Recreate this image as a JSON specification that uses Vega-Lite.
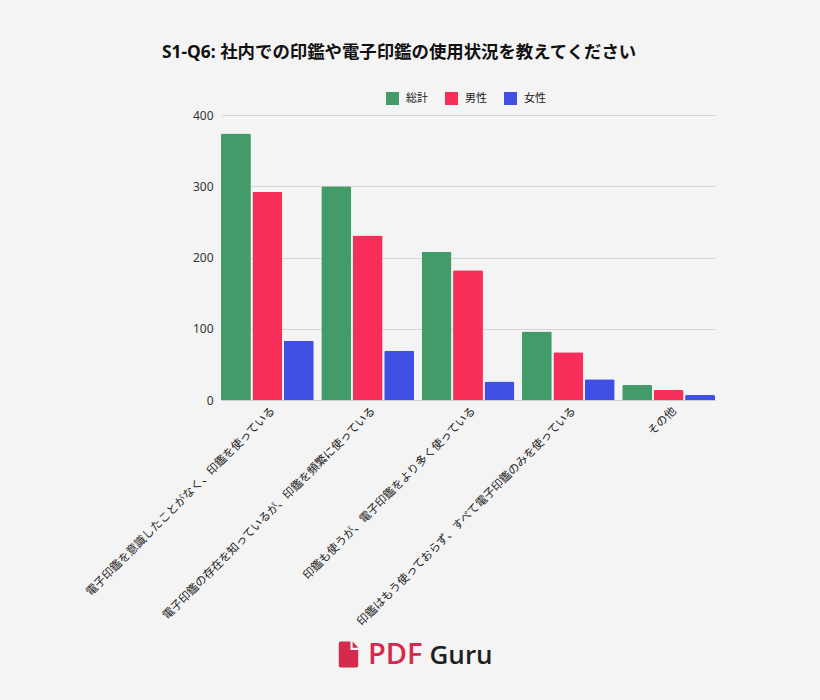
{
"$schema":"https://vega.github.io/schema/vega-lite/v6.json",
"width":494,"height":285,
"autosize":{"type":"none"},
"padding":{"left":221,"top":115,"right":105,"bottom":300},
"background":"#f4f4f4",
"title":{"text":"S1-Q6: 社内での印鑑や電子印鑑の使用状況を教えてください","anchor":"start","frame":"group","dx":-59,"offset":31,"font":"Noto Sans, Noto Sans CJK JP","fontSize":17.4,"fontWeight":"bold","color":"#111111"},
"data":{"values":[
{"category":"電子印鑑を意識したことがなく、印鑑を使っている","series":"総計","count":374,"brand":"PDF"},
{"category":"電子印鑑を意識したことがなく、印鑑を使っている","series":"男性","count":292,"brand":"PDF"},
{"category":"電子印鑑を意識したことがなく、印鑑を使っている","series":"女性","count":83,"brand":"PDF"},
{"category":"電子印鑑の存在を知っているが、印鑑を頻繁に使っている","series":"総計","count":300,"brand":"PDF"},
{"category":"電子印鑑の存在を知っているが、印鑑を頻繁に使っている","series":"男性","count":231,"brand":"PDF"},
{"category":"電子印鑑の存在を知っているが、印鑑を頻繁に使っている","series":"女性","count":69,"brand":"PDF"},
{"category":"印鑑も使うが、電子印鑑をより多く使っている","series":"総計","count":208,"brand":"PDF"},
{"category":"印鑑も使うが、電子印鑑をより多く使っている","series":"男性","count":182,"brand":"PDF"},
{"category":"印鑑も使うが、電子印鑑をより多く使っている","series":"女性","count":26,"brand":"PDF"},
{"category":"印鑑はもう使っておらず、すべて電子印鑑のみを使っている","series":"総計","count":96,"brand":"PDF"},
{"category":"印鑑はもう使っておらず、すべて電子印鑑のみを使っている","series":"男性","count":67,"brand":"PDF"},
{"category":"印鑑はもう使っておらず、すべて電子印鑑のみを使っている","series":"女性","count":29,"brand":"PDF"},
{"category":"その他","series":"総計","count":21,"brand":"PDF"},
{"category":"その他","series":"男性","count":14,"brand":"PDF"},
{"category":"その他","series":"女性","count":7,"brand":"PDF"}
]},
"encoding":{
"x":{"field":"category","type":"nominal","sort":null,
"scale":{"paddingInner":0.075,"paddingOuter":0},
"axis":{"labelAngle":-45,"labelAlign":"right","labelBaseline":"middle","labelFont":"Noto Sans CJK JP","labelFontSize":11.4,"labelColor":"#222222","labelLimit":400,"labelPadding":9,"labelOffset":6,"ticks":false,"domain":true,"domainColor":"#cccccc","domainWidth":1,"grid":false,
"title":"Guru","titleX":208,"titleY":263,"titleAlign":"left","titleBaseline":"alphabetic","titleFont":"Open Sans","titleFontSize":26,"titleFontWeight":600,"titleColor":"#1f1f1f"}},
"y":{"field":"count","type":"quantitative","scale":{"domain":[0,400]},
"axis":{"values":[0,100,200,300,400],"title":null,"domain":false,"ticks":false,"labelPadding":8,"labelFont":"Noto Sans","labelFontSize":12,"labelColor":"#333333","gridColor":"#d6d6d6","gridWidth":1}}
},
"layer":[
{"mark":{"type":"bar","cornerRadiusEnd":1.5},
"encoding":{
"xOffset":{"field":"series","type":"nominal","sort":["総計","男性","女性"],"scale":{"paddingInner":0.05,"paddingOuter":0}},
"color":{"field":"series","type":"nominal","sort":["総計","男性","女性"],
"scale":{"domain":["総計","男性","女性"],"range":["#439b69","#f62e58","#3f4fe3"]},
"legend":{"orient":"none","legendX":165,"legendY":-23,"title":null,"direction":"horizontal","columns":3,"symbolType":"square","symbolSize":169,"symbolStrokeWidth":0,"labelFont":"Noto Sans CJK JP","labelFontSize":11,"labelColor":"#222222","labelOffset":7,"columnPadding":17,"padding":0}}
}},
{"mark":{"type":"point","size":0,"filled":true,"color":"#d42a4e","opacity":1},
"encoding":{
"shape":{"field":"brand","type":"nominal",
"scale":{"domain":["PDF"],"range":["M-0.75,-0.85 Q-0.75,-1 -0.6,-1 L0.15,-1 L0.15,-0.35 L0.75,-0.35 L0.75,0.85 Q0.75,1 0.6,1 L-0.6,1 Q-0.75,1 -0.75,0.85 Z M0.32,-1 L0.75,-0.52 L0.32,-0.52 Z"]},
"legend":{"orient":"none","legendX":113,"legendY":525,"title":null,"symbolSize":676,"symbolStrokeWidth":0,"labelFont":"Open Sans","labelFontSize":29,"labelFontWeight":600,"labelColor":"#d42a4e","labelOffset":5,"labelLimit":200,"padding":0}}
}}
],
"resolve":{"legend":{"color":"independent","shape":"independent"}},
"config":{"view":{"stroke":null}}
}
